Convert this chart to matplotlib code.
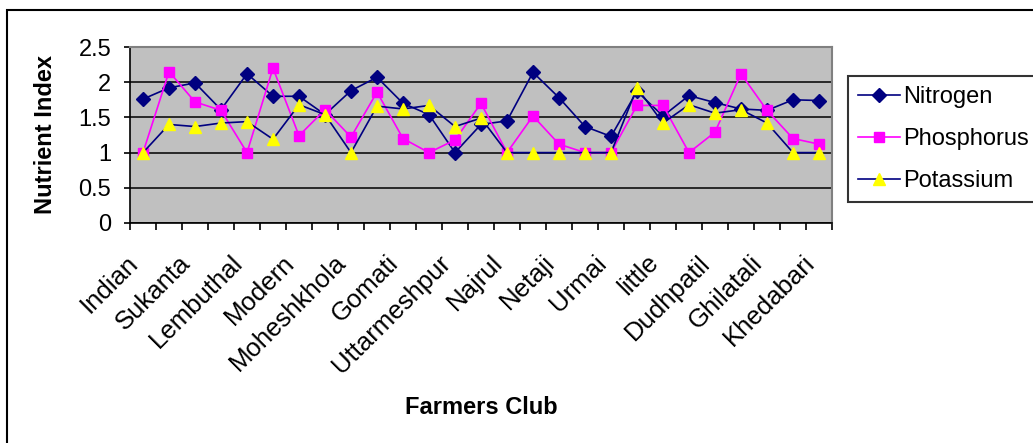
import matplotlib
matplotlib.use("Agg")
import matplotlib.pyplot as plt
from matplotlib.patches import Rectangle
from matplotlib.transforms import ScaledTranslation

plt.rcParams['font.family'] = ['Liberation Sans', 'DejaVu Sans']

# every other club name is shown on the axis
shown_clubs = ["Indian", "Sukanta", "Lembuthal", "Modern", "Moheshkhola", "Gomati",
               "Uttarmeshpur", "Najrul", "Netaji", "Urmai", "little", "Dudhpatil",
               "Ghilatali", "Khedabari"]
n_clubs = 27

nitrogen = [1.76, 1.92, 1.99, 1.61, 2.12, 1.80, 1.80, 1.54, 1.88, 2.07, 1.70, 1.54, 1.00, 1.40,
            1.45, 2.14, 1.78, 1.37, 1.23, 1.87, 1.52, 1.81, 1.71, 1.62, 1.60, 1.75, 1.74]
phosphorus = [1.00, 2.15, 1.72, 1.60, 1.00, 2.20, 1.24, 1.61, 1.22, 1.86, 1.20, 1.00, 1.18, 1.70,
              1.00, 1.52, 1.12, 1.00, 1.00, 1.67, 1.67, 1.00, 1.29, 2.12, 1.60, 1.20, 1.12]
potassium = [1.00, 1.40, 1.37, 1.42, 1.44, 1.19, 1.68, 1.54, 1.00, 1.66, 1.62, 1.67, 1.37, 1.49,
             1.00, 1.00, 1.00, 1.00, 1.00, 1.92, 1.42, 1.68, 1.56, 1.61, 1.42, 1.00, 1.00]

W, H = 1033, 443
fig = plt.figure(figsize=(W / 100, H / 100), dpi=100)
ax = fig.add_axes([130 / W, 1 - 223 / H, (832 - 130) / W, (223 - 47) / H])

x = list(range(n_clubs))
ax.plot(x, nitrogen, color='#000080', lw=1.2, marker='D', ms=7,
        mfc='#000080', mec='#000080', label='Nitrogen', zorder=3)
ax.plot(x, phosphorus, color='#FF00FF', lw=1.2, marker='s', ms=7,
        mfc='#FF00FF', mec='#FF00FF', label='Phosphorus', zorder=3)
ax.plot(x, potassium, color='#000080', lw=1.2, marker='^', ms=8.5,
        mfc='#FFFF00', mec='#FFFF00', label='Potassium', zorder=4)

ax.set_facecolor('#C0C0C0')
ax.set_xlim(-0.5, n_clubs - 0.5)
ax.set_ylim(0, 2.5)
ax.set_yticks([0, 0.5, 1, 1.5, 2, 2.5])
ax.set_yticklabels(['0', '0.5', '1', '1.5', '2', '2.5'])
ax.yaxis.grid(True, color='black', lw=1.1)
ax.set_axisbelow(True)

# tick marks between categories, labels on every other category
ax.set_xticks([i - 0.5 for i in range(n_clubs + 1)])
ax.set_xticklabels([])
ax.set_xticks(list(range(0, n_clubs, 2)), minor=True)
ax.set_xticklabels(shown_clubs, minor=True, rotation=45, ha='right', va='center',
                   rotation_mode='anchor', fontsize=18.5)
ax.tick_params(axis='x', which='major', direction='out', length=5, width=1.2)
ax.tick_params(axis='x', which='minor', length=0, pad=26)
ax.tick_params(axis='y', direction='out', length=4.5, width=1.2, pad=9, labelsize=17)
shift = ScaledTranslation(-6 / 72, 0, fig.dpi_scale_trans)
for lab in ax.get_xticklabels(minor=True):
    lab.set_transform(lab.get_transform() + shift)

for s in ['top', 'right']:
    ax.spines[s].set_color('#808080')
    ax.spines[s].set_linewidth(1.5)
for s in ['left', 'bottom']:
    ax.spines[s].set_color('black')
    ax.spines[s].set_linewidth(1.2)

fig.text(46 / W, 1 - 135 / H, 'Nutrient Index', rotation=90, ha='center', va='center',
         fontsize=17, fontweight='bold')
fig.text(481 / W, 1 - 407 / H, 'Farmers Club', ha='center', va='center',
         fontsize=17, fontweight='bold')

leg = fig.legend(loc='upper left', bbox_to_anchor=(848 / W, 1 - 76 / H),
                 bbox_transform=fig.transFigure, fontsize=17, frameon=True,
                 fancybox=False, borderaxespad=0, borderpad=0.42, handlelength=1.8,
                 handletextpad=0.12, labelspacing=0.85)
leg.get_frame().set_edgecolor('black')
leg.get_frame().set_linewidth(1.5)

# chart area border
fig.patches.append(Rectangle((7 / W, -0.1), 1.2, (H - 10) / H + 0.1, transform=fig.transFigure,
                             fill=False, edgecolor='black', lw=1.5))

fig.savefig('out.png', dpi=100)
